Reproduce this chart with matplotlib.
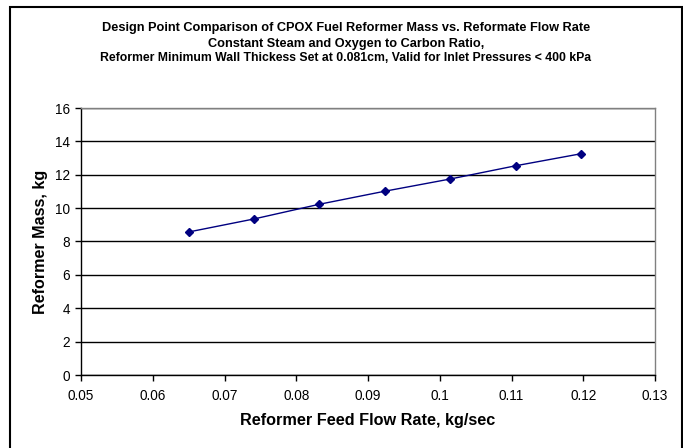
import matplotlib
matplotlib.use("Agg")
import matplotlib.pyplot as plt
from matplotlib.patches import Rectangle

plt.rcParams['font.family'] = ['Liberation Sans', 'DejaVu Sans']

flow_rate = [0.0650, 0.0741, 0.0832, 0.0923, 0.1014, 0.1106, 0.1197]
reformer_mass = [8.57, 9.35, 10.23, 11.01, 11.74, 12.54, 13.26]
x_ticks = [0.05, 0.06, 0.07, 0.08, 0.09, 0.1, 0.11, 0.12, 0.13]
x_tick_labels = ['0.05', '0.06', '0.07', '0.08', '0.09', '0.1', '0.11', '0.12', '0.13']
y_ticks = [0, 2, 4, 6, 8, 10, 12, 14, 16]

W, H = 683, 448
fig = plt.figure(figsize=(W / 100, H / 100), dpi=100)
ax = fig.add_axes([81 / W, (H - 375) / H, (655 - 81) / W, (375 - 108) / H])

ax.plot(flow_rate, reformer_mass, color='#000080', linewidth=1.0,
        marker='D', markersize=4.5, markerfacecolor='#000080',
        markeredgecolor='#000080', zorder=3)

ax.set_xlim(0.05, 0.13)
ax.set_ylim(0, 16)
ax.set_xticks(x_ticks)
ax.set_xticklabels(x_tick_labels)
ax.set_yticks(y_ticks)
ax.grid(axis='y', color='black', linewidth=1.0)
ax.set_axisbelow(True)

for s in ['top', 'right']:
    ax.spines[s].set_color('#808080')
    ax.spines[s].set_linewidth(1.0)
for s in ['left', 'bottom']:
    ax.spines[s].set_color('black')
    ax.spines[s].set_linewidth(1.0)

ax.tick_params(axis='both', direction='out', length=4, width=1, labelsize=9.8,
               colors='black')
ax.tick_params(axis='x', pad=6)
ax.tick_params(axis='y', pad=4)

ax.set_xlabel('Reformer Feed Flow Rate, kg/sec', fontsize=11.7, fontweight='bold',
              labelpad=7)
ax.set_ylabel('Reformer Mass, kg', fontsize=11.6, fontweight='bold', labelpad=5)

cx = 0.5 * (10 + 682) / W
fig.text(cx, 1 - 28 / H,
         'Design Point Comparison of CPOX Fuel Reformer Mass vs. Reformate Flow Rate',
         ha='center', va='center', fontsize=9.2, fontweight='bold')
fig.text(cx, 1 - 43.5 / H,
         'Constant Steam and Oxygen to Carbon Ratio,',
         ha='center', va='center', fontsize=9.2, fontweight='bold')
fig.text(cx, 1 - 58 / H,
         'Reformer Minimum Wall Thickess Set at 0.081cm, Valid for Inlet Pressures < 400 kPa',
         ha='center', va='center', fontsize=8.8, fontweight='bold')

border = Rectangle((10 / W, -0.05), (682 - 10) / W, 1.05 - 7 / H,
                   transform=fig.transFigure, fill=False, edgecolor='black',
                   linewidth=1.5, clip_on=False)
fig.patches.append(border)

fig.savefig('out.png', dpi=100)
